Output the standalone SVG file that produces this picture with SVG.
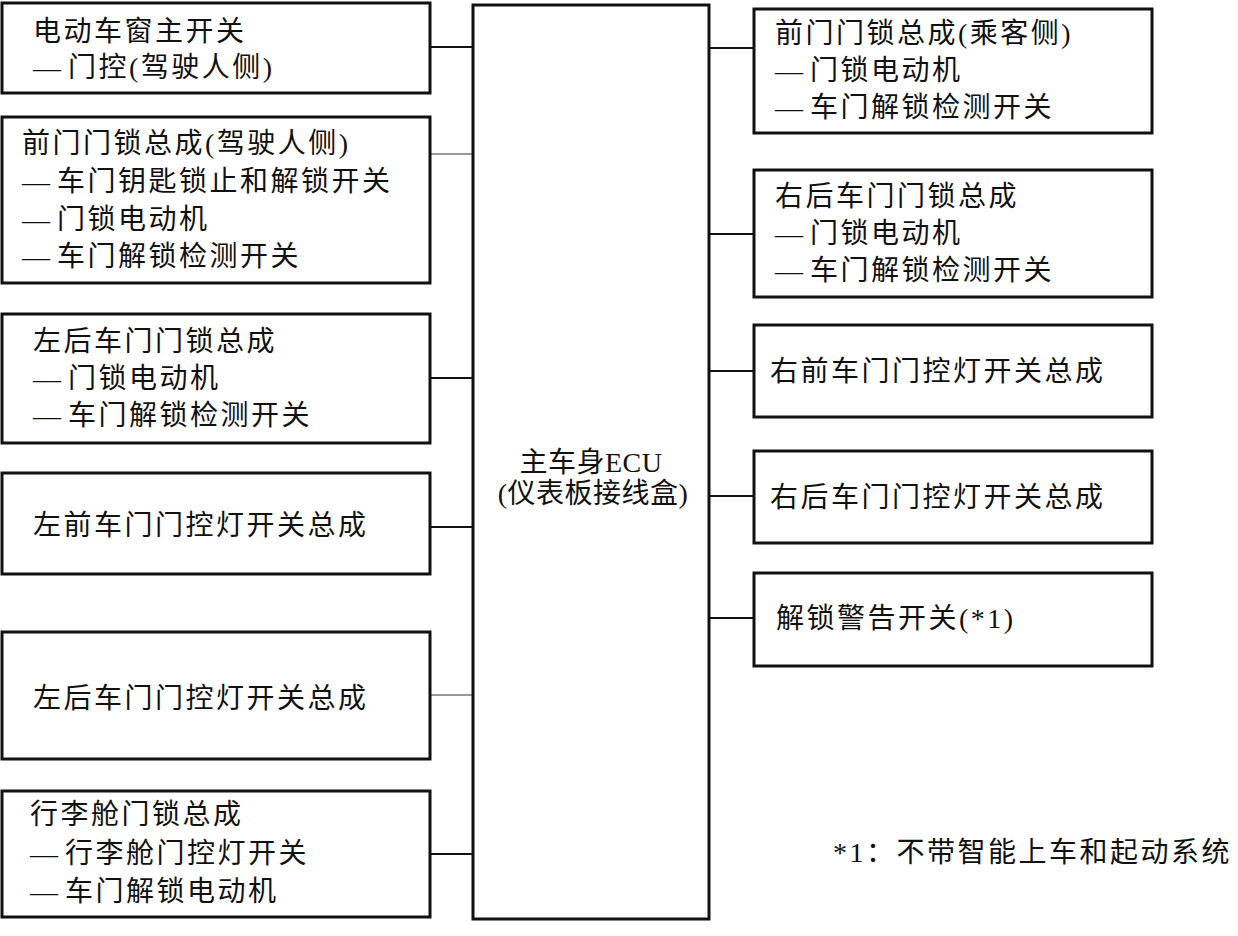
<svg xmlns="http://www.w3.org/2000/svg" width="1238" height="936" viewBox="0 0 1238 936">
<style>
.box{fill:#fff;stroke:#111;stroke-width:3}
.ln{stroke:#111;stroke-width:2;fill:none}
.thin{stroke:#333;stroke-width:1.2;fill:none}
text{font-family:"Liberation Serif","Noto Sans CJK SC",serif;font-size:28px;fill:#111;letter-spacing:2.5px}
.d{letter-spacing:7px}
text.c{letter-spacing:0.5px}
</style>
<rect width="1238" height="936" fill="#fff"/>
<g id="connectors">
<line class="ln" x1="430" y1="47" x2="473" y2="47"/>
<line class="thin" x1="430" y1="154" x2="473" y2="154"/>
<line class="ln" x1="430" y1="378" x2="473" y2="378"/>
<line class="ln" x1="430" y1="527" x2="473" y2="527"/>
<line class="thin" x1="430" y1="695" x2="473" y2="695"/>
<line class="ln" x1="430" y1="854" x2="473" y2="854"/>
<line class="ln" x1="709" y1="48" x2="754" y2="48"/>
<line class="ln" x1="709" y1="234" x2="754" y2="234"/>
<line class="ln" x1="709" y1="371" x2="754" y2="371"/>
<line class="ln" x1="709" y1="496" x2="754" y2="496"/>
<line class="ln" x1="709" y1="618" x2="754" y2="618"/>
</g>
<g id="ecu">
<rect class="box" x="473" y="5" width="236" height="914"/>
<text class="c" x="591" y="472" text-anchor="middle">主车身ECU</text>
<text class="c" x="593" y="503" text-anchor="middle">(仪表板接线盒)</text>
</g>
<g id="n1">
<rect class="box" x="2" y="3" width="428" height="90"/>
<text x="33" y="41">电动车窗主开关</text>
<text x="33" y="77"><tspan class="d">—</tspan>门控(驾驶人侧)</text>
</g>
<g id="n2">
<rect class="box" x="2" y="117" width="428" height="166"/>
<text x="22" y="153">前门门锁总成(驾驶人侧)</text>
<text x="22" y="191"><tspan class="d">—</tspan>车门钥匙锁止和解锁开关</text>
<text x="22" y="229"><tspan class="d">—</tspan>门锁电动机</text>
<text x="22" y="266"><tspan class="d">—</tspan>车门解锁检测开关</text>
</g>
<g id="n3">
<rect class="box" x="2" y="314" width="428" height="129"/>
<text x="33" y="351">左后车门门锁总成</text>
<text x="33" y="388"><tspan class="d">—</tspan>门锁电动机</text>
<text x="33" y="425"><tspan class="d">—</tspan>车门解锁检测开关</text>
</g>
<g id="n4">
<rect class="box" x="2" y="473" width="428" height="101"/>
<text x="33" y="535">左前车门门控灯开关总成</text>
</g>
<g id="n5">
<rect class="box" x="2" y="632" width="428" height="127"/>
<text x="33" y="708">左后车门门控灯开关总成</text>
</g>
<g id="n6">
<rect class="box" x="2" y="791" width="428" height="126"/>
<text x="30" y="824">行李舱门锁总成</text>
<text x="30" y="863"><tspan class="d">—</tspan>行李舱门控灯开关</text>
<text x="30" y="901"><tspan class="d">—</tspan>车门解锁电动机</text>
</g>
<g id="r1">
<rect class="box" x="754" y="9" width="398" height="124"/>
<text x="775" y="43">前门门锁总成(乘客侧)</text>
<text x="775" y="80"><tspan class="d">—</tspan>门锁电动机</text>
<text x="775" y="117"><tspan class="d">—</tspan>车门解锁检测开关</text>
</g>
<g id="r2">
<rect class="box" x="754" y="170" width="398" height="127"/>
<text x="775" y="206">右后车门门锁总成</text>
<text x="775" y="243"><tspan class="d">—</tspan>门锁电动机</text>
<text x="775" y="280"><tspan class="d">—</tspan>车门解锁检测开关</text>
</g>
<g id="r3">
<rect class="box" x="754" y="325" width="398" height="92"/>
<text x="770" y="381">右前车门门控灯开关总成</text>
</g>
<g id="r4">
<rect class="box" x="754" y="451" width="398" height="92"/>
<text x="770" y="507">右后车门门控灯开关总成</text>
</g>
<g id="r5">
<rect class="box" x="754" y="573" width="398" height="93"/>
<text x="776" y="628">解锁警告开关(*1)</text>
</g>
<g id="note">
<text x="833" y="862" letter-spacing="1">*1：不带智能上车和起动系统</text>
</g>
</svg>
